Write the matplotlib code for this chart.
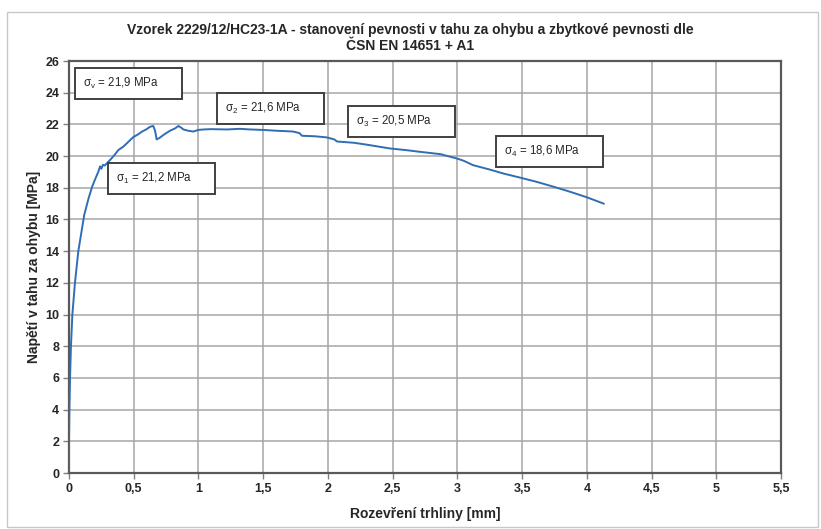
import matplotlib
matplotlib.use("Agg")
import matplotlib.pyplot as plt
from matplotlib.patches import Rectangle
from matplotlib.ticker import FuncFormatter

# ---- data ----
cmod = [0.0, 0.0, 0.003, 0.008, 0.015, 0.026, 0.046, 0.072, 0.118, 0.15, 0.18,
        0.205, 0.226, 0.24, 0.25, 0.262, 0.275, 0.317, 0.35, 0.381, 0.42, 0.446,
        0.497, 0.53, 0.561, 0.6, 0.626, 0.651, 0.665, 0.677, 0.70, 0.729, 0.78,
        0.82, 0.845, 0.865, 0.884, 0.92, 0.96, 1.0, 1.04, 1.10, 1.22, 1.32,
        1.40, 1.50, 1.60, 1.73, 1.78, 1.80, 1.90, 1.99, 2.05, 2.07, 2.20,
        2.30, 2.48, 2.60, 2.71, 2.87, 2.995, 3.05, 3.12, 3.25, 3.355, 3.48,
        3.61, 3.75, 3.87, 4.0, 4.13]
stress = [0.0, 2.0, 4.0, 6.0, 8.0, 10.0, 12.0, 14.0, 16.3, 17.3, 18.1,
          18.6, 19.0, 19.35, 19.2, 19.45, 19.4, 19.75, 20.05, 20.38, 20.6, 20.8,
          21.2, 21.35, 21.53, 21.7, 21.85, 21.9, 21.6, 21.05, 21.15, 21.33, 21.6,
          21.75, 21.9, 21.8, 21.68, 21.6, 21.55, 21.65, 21.68, 21.7, 21.68, 21.72,
          21.68, 21.65, 21.6, 21.55, 21.45, 21.28, 21.25, 21.18, 21.05, 20.92, 20.84,
          20.72, 20.48, 20.38, 20.27, 20.12, 19.85, 19.7, 19.43, 19.15, 18.9, 18.65,
          18.38, 18.05, 17.75, 17.4, 17.0]

xticks = [0, 0.5, 1, 1.5, 2, 2.5, 3, 3.5, 4, 4.5, 5, 5.5]
yticks = list(range(0, 27, 2))

labels = ["σ$_{\\mathrm{v}}$ = 21,9 MPa", "σ$_{2}$ = 21,6 MPa", "σ$_{3}$ = 20,5 MPa",
          "σ$_{4}$ = 18,6 MPa", "σ$_{1}$ = 21,2 MPa"]
label_x = [0.46, 1.56, 2.57, 3.71, 0.715]
label_y = [24.57, 23.03, 22.18, 20.28, 18.58]

title = ("Vzorek 2229/12/HC23-1A - stanovení pevnosti v tahu za ohybu a zbytkové pevnosti dle\n"
         "ČSN EN 14651 + A1")
xlabel = "Rozevření trhliny [mm]"
ylabel = "Napětí v tahu za ohybu [MPa]"

# ---- plot ----
plt.rcParams['font.family'] = ['Liberation Sans', 'DejaVu Sans']
plt.rcParams['mathtext.fontset'] = 'custom'
plt.rcParams['mathtext.rm'] = 'Liberation Sans'
fig = plt.figure(figsize=(8.21, 5.29), dpi=100)
ax = fig.add_axes([69/821, 1-473/529, (781-69)/821, (473-61)/529])

# outer chart border
fig.patches.append(Rectangle((7/821, 2/529), 811/821, 515/529, transform=fig.transFigure,
                             fill=False, edgecolor='#c8c8c8', linewidth=1.0))

ax.plot(cmod, stress, color='#2f6db5', linewidth=1.4, zorder=3)

ax.set_xlim(0, 5.5)
ax.set_ylim(0, 26)
ax.set_xticks(xticks)
ax.set_yticks(yticks)
ax.xaxis.set_major_formatter(FuncFormatter(lambda v, p: ('%g' % v).replace('.', ',')))
ax.grid(True, color='#a6a6a6', linewidth=1.1, zorder=0)
ax.set_axisbelow(True)
for s in ax.spines.values():
    s.set_color('#595959')
    s.set_linewidth(1.6)
ax.tick_params(direction='out', length=4, width=1.0, color='#808080',
               labelsize=9, labelcolor='#262626', pad=3)
for lab in ax.get_xticklabels() + ax.get_yticklabels():
    lab.set_fontweight('bold')

ax.set_xlabel(xlabel, fontsize=10, fontweight='bold', color='#262626', labelpad=9)
ax.set_ylabel(ylabel, fontsize=10, fontweight='bold', color='#262626', labelpad=3)
fig.text(0.5, 1-38/529, title, ha='center', va='center', fontsize=10,
         fontweight='bold', color='#262626', linespacing=1.25)

bw, bh = 107/129.45, 31/15.85
for t, x, y in zip(labels, label_x, label_y):
    ax.add_patch(Rectangle((x - bw/2, y - bh/2), bw, bh, facecolor='white',
                           edgecolor='#404040', linewidth=1.4, zorder=4))
    ax.text(x - bw/2 + 8/129.45, y, t, ha='left', va='center', fontsize=8.3,
            color='#262626', zorder=5)

fig.savefig('out.png', dpi=100)
